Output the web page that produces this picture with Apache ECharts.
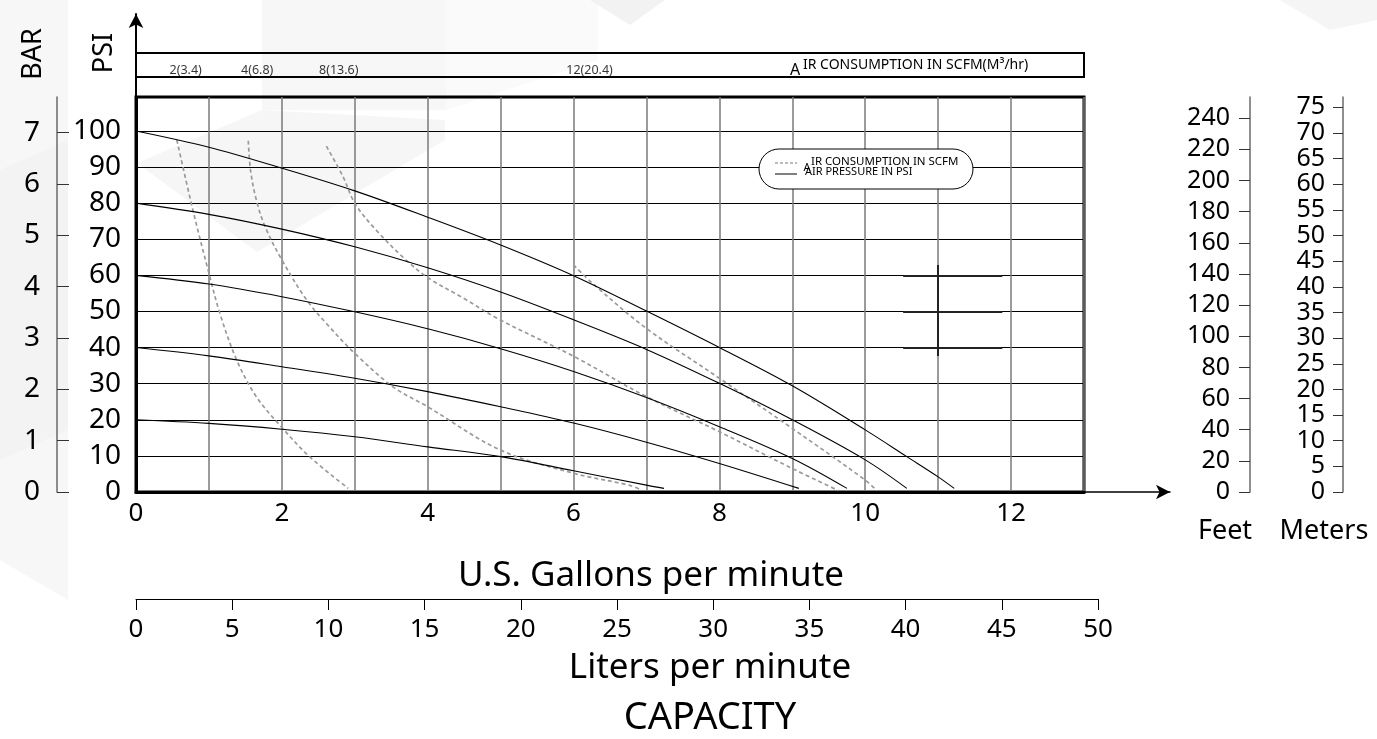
<!DOCTYPE html>
<html><head><meta charset="utf-8">
<script src="https://cdn.jsdelivr.net/npm/echarts@6/dist/echarts.min.js"></script>
<style>html,body{margin:0;padding:0;background:#fff}#c{width:1377px;height:739px}</style>
</head><body><div id="c"></div>
<script>
// ---- tick labels ----
const gallonTicks = [0, 2, 4, 6, 8, 10, 12];
const psiTicks = [0, 10, 20, 30, 40, 50, 60, 70, 80, 90, 100];
const barTicks = [0, 1, 2, 3, 4, 5, 6, 7];
const feetTicks = [0, 20, 40, 60, 80, 100, 120, 140, 160, 180, 200, 220, 240];
const meterTicks = [0, 5, 10, 15, 20, 25, 30, 35, 40, 45, 50, 55, 60, 65, 70, 75];
const literTicks = [0, 5, 10, 15, 20, 25, 30, 35, 40, 45, 50];

// ---- air pressure curves (gallons/min, head psi) ----
const psi100 = [[0,100],[1,95.5],[2,89.7],[3,83.4],[4,76.1],[5,68.4],[6,59.9],[7,50.1],[8,40.0],[9,29.4],[10,17.2],[10.57,9.8],[11,4.2],[11.22,1]];
const psi80  = [[0,80],[1,76.9],[2,72.8],[3,67.9],[4,62.1],[5,55.4],[6,47.7],[7,39.5],[8,30.1],[9,20.0],[10,8.9],[10.57,1]];
const psi60  = [[0,60],[1,57.6],[2,54.1],[3,49.9],[4,45.2],[5,39.7],[6,33.4],[7,26.2],[8,18.1],[9,9.3],[9.75,1]];
const psi40  = [[0,40],[1,37.7],[2,34.7],[3,31.5],[4,27.8],[5,23.6],[6,19.1],[7,13.8],[8,7.9],[9.09,1]];
const psi20  = [[0,20],[1,19.0],[2,17.4],[3,15.3],[4,12.5],[5,9.8],[6,5.9],[7,1.9],[7.24,1]];

// ---- air consumption curves (SCFM) ----
const scfm2  = [[0.56,97.5],[0.78,78.1],[1.0,60.6],[1.15,49.5],[1.38,36.6],[1.65,26.4],[1.99,18.1],[2.38,9.8],[2.91,1.0]];
const scfm4  = [[1.54,97.3],[1.57,89.2],[1.65,80.9],[1.77,73.5],[2.0,64.3],[2.34,53.2],[2.65,45.8],[3.0,38.4],[3.52,29.2],[4.0,23.6],[5.0,11.6],[6.0,5.2],[6.76,1.9],[6.9,0.8]];
const scfm8  = [[2.61,95.8],[2.84,87.3],[3.0,80.0],[3.29,72.6],[3.70,64.3],[4.0,59.4],[4.48,53.8],[5.0,47.6],[6.0,37.6],[7.0,26.4],[8.0,16.7],[8.95,7.0],[9.63,0.4]];
const scfm12 = [[6.0,62.9],[6.26,57.8],[7.0,45.3],[8.0,31.5],[9.0,17.6],[10.0,3.3],[10.16,0.4]];

const scfmValues = [2, 4, 8, 12];
const m3hrValues = [3.4, 6.8, 13.6, 20.4];

// ---- marker at 11 gpm ----
const markerGpm = 11;
const markerPsi = [60, 50, 40];
const markerSpan = [10.52, 11.88];
const markerVertical = [37.7, 62.9];

const FONT = 'Noto Sans';
const pressureCurves = [psi100, psi80, psi60, psi40, psi20];
const scfmCurves = [scfm2, scfm4, scfm8, scfm12];

const chart = echarts.init(document.getElementById('c'), null, {renderer: 'canvas'});

const hidden = {show: false};
function hiddenAxis(gi, extra) {
  return Object.assign({gridIndex: gi, type: 'value', show: false, min: 0, max: 1}, extra || {});
}

const series = [];
pressureCurves.forEach((d) => series.push({
  name: 'AIR PRESSURE IN PSI', type: 'line', xAxisIndex: 0, yAxisIndex: 0, data: d,
  smooth: 0.35, symbol: 'none', z: 5,
  lineStyle: {color: '#000', width: 1.1}
}));
scfmCurves.forEach((d) => series.push({
  name: 'AIR CONSUMPTION IN SCFM', type: 'line', xAxisIndex: 0, yAxisIndex: 0, data: d,
  smooth: 0.35, symbol: 'none', z: 4,
  lineStyle: {color: '#9a9a9a', width: 1.7, type: [4, 3]}
}));
// marker
const markerLines = markerPsi.map(p => ({coords: [[markerSpan[0], p], [markerSpan[1], p]]}));
markerLines.push({coords: [[markerGpm, markerVertical[0]], [markerGpm, markerVertical[1]]]});
series.push({
  type: 'lines', coordinateSystem: 'cartesian2d', xAxisIndex: 0, yAxisIndex: 0, z: 6,
  data: markerLines, lineStyle: {color: '#222', width: 2, opacity: 1}, silent: true
});
// banner labels (air consumption in scfm / m3 per hr)
series.push({
  type: 'scatter', xAxisIndex: 6, yAxisIndex: 6, symbolSize: 0, silent: true,
  data: scfmValues.map((v, i) => ({value: [scfmCurves[i][0][0] - 0.1, 0.28], txt: v + '(' + m3hrValues[i] + ')'})),
  label: {show: true, position: 'right', distance: 0, fontFamily: FONT, fontSize: 12.5, color: '#000',
    formatter: p => p.data.txt}
});

const numLabel = (size, margin, vals) => ({fontFamily: FONT, fontSize: size, color: '#000', margin: margin, customValues: vals});

const option = {
  backgroundColor: '#fff',
  animation: false,
  grid: [
    {left: 136, right: 293, top: 97, bottom: 247, show: true, borderColor: '#000', borderWidth: 3, backgroundColor: 'transparent', outerBoundsMode: 'none'}, // 0 main
    {left: 57, width: 10, top: 97, bottom: 247, outerBoundsMode: 'none'},   // 1 bar
    {left: 1250, width: 10, top: 97, bottom: 247, outerBoundsMode: 'none'}, // 2 feet
    {left: 1343, width: 10, top: 97, bottom: 247, outerBoundsMode: 'none'}, // 3 meters
    {left: 136, right: 279, top: 590, bottom: 140, outerBoundsMode: 'none'}, // 4 liters
    {left: 136, right: 207, top: 14, bottom: 247, outerBoundsMode: 'none'}, // 5 arrows
    {left: 136, right: 293, top: 53, bottom: 662, show: true, borderColor: '#000', borderWidth: 2, backgroundColor: 'transparent', outerBoundsMode: 'none'} // 6 banner
  ],
  xAxis: [
    {gridIndex: 0, type: 'value', min: 0, max: 13, interval: 1,
      axisLine: {show: true, lineStyle: {color: '#000', width: 3}}, axisTick: hidden,
      axisLabel: numLabel(26, 9, gallonTicks),
      splitLine: {show: true, lineStyle: {color: '#7a7a7a', width: 1.5}}},
    hiddenAxis(1), hiddenAxis(2), hiddenAxis(3),
    {gridIndex: 4, type: 'value', min: 0, max: 50, interval: 5, position: 'bottom',
      axisLine: {show: true, onZero: false, lineStyle: {color: '#000', width: 1}},
      axisTick: {show: true, length: 11, lineStyle: {color: '#000', width: 1}},
      axisLabel: numLabel(26, 18, literTicks), splitLine: hidden},
    {gridIndex: 5, type: 'value', min: 0, max: 1, axisLine: {show: true, onZero: false, symbol: ['none', 'arrow'], symbolSize: [11, 14], lineStyle: {color: '#000', width: 1.5}},
      axisTick: hidden, axisLabel: hidden, splitLine: hidden},
    hiddenAxis(6, {min: 0, max: 13})
  ],
  yAxis: [
    {gridIndex: 0, type: 'value', min: 0, max: 109.4, interval: 10,
      axisLine: {show: true, lineStyle: {color: '#000', width: 3}}, axisTick: hidden,
      axisLabel: numLabel(28, 15, psiTicks),
      splitLine: {show: true, lineStyle: {color: '#000', width: 1.2}}},
    {gridIndex: 1, type: 'value', min: 0, max: 7.695, interval: 1, position: 'left',
      axisLine: {show: true, onZero: false, lineStyle: {color: '#6a6a6a', width: 1.5}},
      axisTick: {show: true, inside: true, length: 12, customValues: barTicks, lineStyle: {color: '#333', width: 1}},
      axisLabel: numLabel(28, 17, barTicks), splitLine: hidden},
    {gridIndex: 2, type: 'value', min: 0, max: 253.6, interval: 20, position: 'left',
      axisLine: {show: true, onZero: false, lineStyle: {color: '#6a6a6a', width: 1.5}},
      axisTick: {show: true, length: 11, customValues: feetTicks, lineStyle: {color: '#333', width: 1}},
      axisLabel: numLabel(25, 20, feetTicks), splitLine: hidden},
    {gridIndex: 3, type: 'value', min: 0, max: 77.0, interval: 5, position: 'left',
      axisLine: {show: true, onZero: false, lineStyle: {color: '#6a6a6a', width: 1.5}},
      axisTick: {show: true, length: 10, customValues: meterTicks, lineStyle: {color: '#333', width: 1}},
      axisLabel: numLabel(25, 18, meterTicks), splitLine: hidden},
    hiddenAxis(4),
    {gridIndex: 5, type: 'value', min: 0, max: 1, axisLine: {show: true, onZero: false, symbol: ['none', 'arrow'], symbolSize: [11, 14], lineStyle: {color: '#000', width: 2}},
      axisTick: hidden, axisLabel: hidden, splitLine: hidden},
    hiddenAxis(6)
  ],
  series: series,
  graphic: [
    // faint watermark shapes
    {type: 'polygon', z: -10, silent: true, shape: {points: [[0,0],[68,0],[68,600],[0,560]]}, style: {fill: '#f7f7f7'}},
    {type: 'polygon', z: -10, silent: true, shape: {points: [[0,170],[68,140],[68,430],[0,460]]}, style: {fill: '#f3f3f3'}},
    {type: 'polygon', z: -10, silent: true, shape: {points: [[262,0],[446,0],[446,110],[262,110]]}, style: {fill: '#f7f7f7'}},
    {type: 'polygon', z: -10, silent: true, shape: {points: [[446,0],[598,0],[598,60],[446,110]]}, style: {fill: '#fafafa'}},
    {type: 'polygon', z: -10, silent: true, shape: {points: [[590,0],[665,0],[630,25]]}, style: {fill: '#f2f2f2'}},
    {type: 'polygon', z: -10, silent: true, shape: {points: [[1280,0],[1377,0],[1377,20],[1330,30]]}, style: {fill: '#f5f5f5'}},
    {type: 'polygon', z: -10, silent: true, shape: {points: [[137,163],[262,110],[445,120],[445,140],[257,252]]}, style: {fill: '#f6f6f6'}},
    // axis titles
    {type: 'text', x: 33, y: 54, rotation: Math.PI / 2, style: {text: 'BAR', font: '27px "' + FONT + '"', fill: '#000', align: 'center', verticalAlign: 'middle'}},
    {type: 'text', x: 104, y: 53, rotation: Math.PI / 2, style: {text: 'PSI', font: '27px "' + FONT + '"', fill: '#000', align: 'center', verticalAlign: 'middle'}},
    {type: 'text', x: 1225, y: 531, style: {text: 'Feet', font: '27px "' + FONT + '"', fill: '#000', align: 'center', verticalAlign: 'middle'}},
    {type: 'text', x: 1324, y: 531, style: {text: 'Meters', font: '27px "' + FONT + '"', fill: '#000', align: 'center', verticalAlign: 'middle'}},
    {type: 'text', x: 651, y: 576, style: {text: 'U.S. Gallons per minute', font: '35px "' + FONT + '"', fill: '#000', align: 'center', verticalAlign: 'middle'}},
    {type: 'text', x: 710, y: 668, style: {text: 'Liters per minute', font: '35px "' + FONT + '"', fill: '#000', align: 'center', verticalAlign: 'middle'}},
    {type: 'text', x: 710, y: 718, style: {text: 'CAPACITY', font: '38px "' + FONT + '"', fill: '#000', align: 'center', verticalAlign: 'middle'}},
    // banner title
    {type: 'text', x: 795, y: 70, z: 20, style: {text: 'A', font: '16px "' + FONT + '"', fill: '#000', align: 'center', verticalAlign: 'middle'}},
    {type: 'text', x: 803, y: 65, z: 20, style: {text: 'IR CONSUMPTION IN SCFM(M³/hr)', font: '14px "' + FONT + '"', fill: '#000', align: 'left', verticalAlign: 'middle'}},
    // legend pill
    {type: 'rect', z: 50, shape: {x: 759, y: 149, width: 214, height: 40, r: 20}, style: {fill: '#fff', stroke: '#000', lineWidth: 1}},
    {type: 'line', z: 51, shape: {x1: 775, y1: 163, x2: 797, y2: 163}, style: {stroke: '#777', lineWidth: 1, lineDash: [3, 2]}},
    {type: 'line', z: 51, shape: {x1: 775, y1: 174, x2: 797, y2: 174}, style: {stroke: '#000', lineWidth: 1}},
    {type: 'text', z: 51, x: 807, y: 168, style: {text: 'A', font: '11px "' + FONT + '"', fill: '#000', align: 'center', verticalAlign: 'middle'}},
    {type: 'text', z: 51, x: 811, y: 162, style: {text: 'IR CONSUMPTION IN SCFM', font: '11.5px "' + FONT + '"', fill: '#000', align: 'left', verticalAlign: 'middle'}},
    {type: 'text', z: 51, x: 805, y: 172, style: {text: 'AIR PRESSURE IN PSI', font: '11px "' + FONT + '"', fill: '#000', align: 'left', verticalAlign: 'middle'}}
  ]
};
chart.setOption(option);
</script>
</body></html>
